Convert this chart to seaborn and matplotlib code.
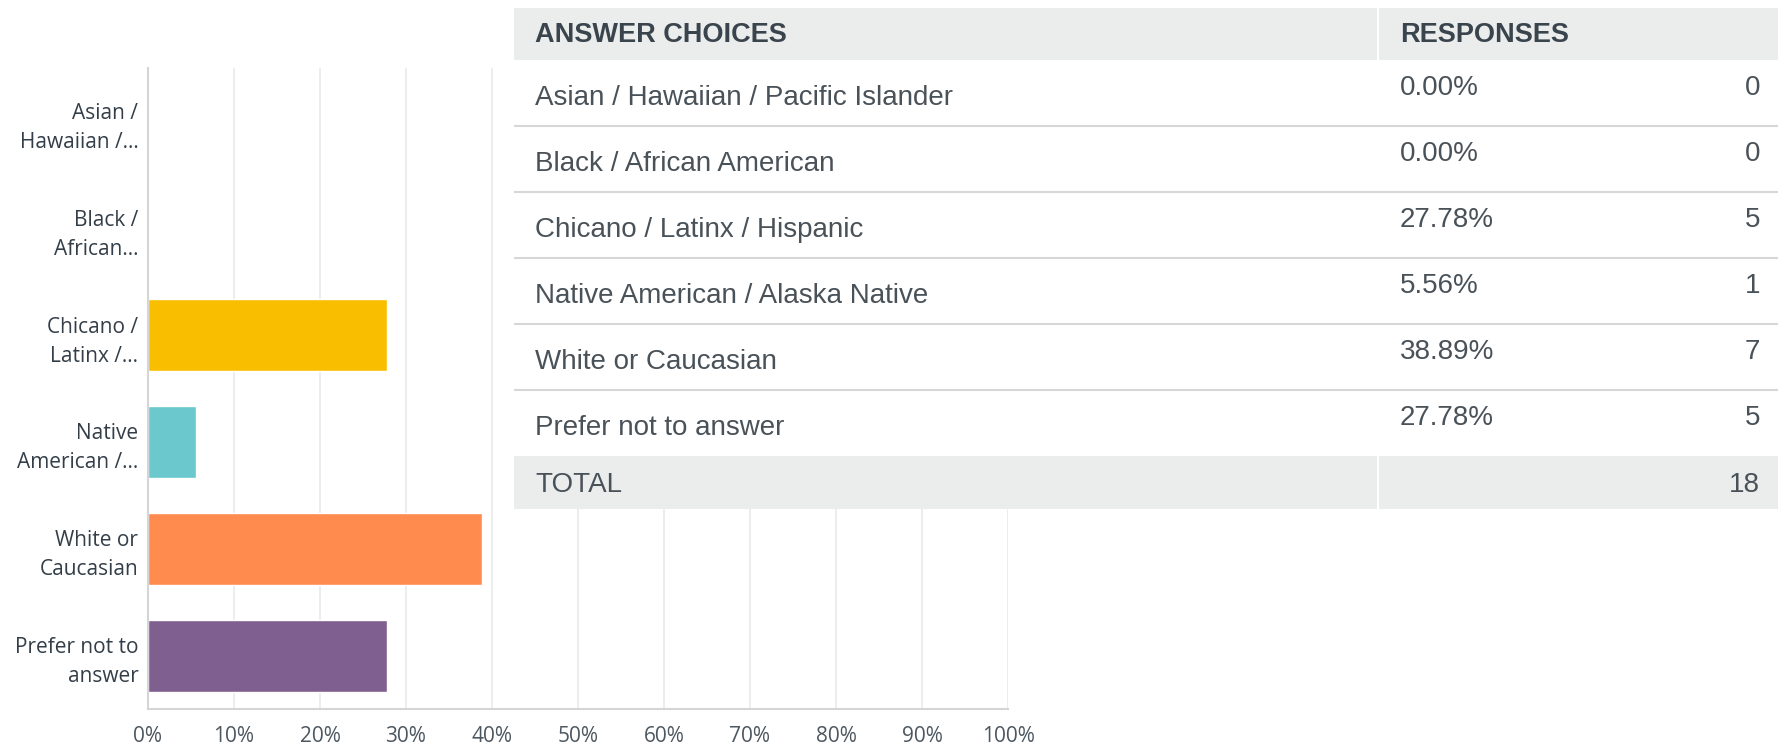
import matplotlib
matplotlib.use('Agg')
import matplotlib.pyplot as plt
from matplotlib.patches import Rectangle
import pandas as pd
import seaborn as sns

# survey answers
choices = ['Asian / Hawaiian / Pacific Islander', 'Black / African American',
           'Chicano / Latinx / Hispanic', 'Native American / Alaska Native',
           'White or Caucasian', 'Prefer not to answer']
short_labels = ['Asian /\nHawaiian /…', 'Black /\nAfrican…', 'Chicano /\nLatinx /…',
                'Native\nAmerican /…', 'White or\nCaucasian', 'Prefer not to\nanswer']
percents = [0.00, 0.00, 27.78, 5.56, 38.89, 27.78]
counts = [0, 0, 5, 1, 7, 5]
total = 18
colors = ['#00BF6F', '#507CB6', '#F9BE00', '#6BC8CD', '#FF8B4F', '#7F5F90']
xticks = list(range(0, 101, 10))

df = pd.DataFrame({'label': short_labels, 'pct': percents})

sns.set_style('white')
plt.rcParams['font.family'] = ['Open Sans', 'DejaVu Sans']

W, H = 1778, 747
fig = plt.figure(figsize=(W / 100, H / 100), dpi=100)

# bar chart
ax = fig.add_axes([148 / W, 38 / H, 860 / W, 641 / H])
sns.barplot(data=df, y='label', x='pct', hue='label', palette=colors, width=0.675,
            saturation=1, legend=False, orient='h', ax=ax)
ax.set_xlim(0, 100)
ax.set_ylim(5.5, -0.5)
ax.set_xticks(xticks)
ax.set_xticklabels([f'{v}%' for v in xticks])
ax.set_xlabel('')
ax.set_ylabel('')
ax.grid(axis='x', color='#ececec', lw=1.3)
ax.set_axisbelow(True)
for s in ['top', 'right']:
    ax.spines[s].set_visible(False)
for s in ['left', 'bottom']:
    ax.spines[s].set_color('#d3d5d6')
    ax.spines[s].set_linewidth(1.5)
ax.tick_params(axis='x', length=0, pad=12, labelsize=15, labelcolor='#4d5760')
ax.tick_params(axis='y', length=0, pad=7, labelsize=15, labelcolor='#333e48')
for t in ax.get_yticklabels():
    t.set_linespacing(1.5)

# results table drawn on top
tw, th = 1264, 501
tx = fig.add_axes([514 / W, (H - 509) / H, tw / W, th / H])
tx.set_xlim(0, tw)
tx.set_ylim(th, 0)
tx.axis('off')
tx.add_patch(Rectangle((0, 0), tw, th, fc='white', ec='none'))

head_h, row_h, split = 52, 66, 863
grey = '#ebeded'
tfont = ['Liberation Sans', 'DejaVu Sans']
fs = 20
tx.add_patch(Rectangle((0, 0), split, head_h, fc=grey, ec='none'))
tx.add_patch(Rectangle((split + 2, 0), tw - split - 2, head_h, fc=grey, ec='none'))
tx.text(21, head_h / 2 + 1, 'ANSWER CHOICES', fontsize=19.5, fontweight='bold',
        color='#3a444d', va='center', family=tfont)
tx.text(886, head_h / 2 + 1, 'RESPONSES', fontsize=19.5, fontweight='bold',
        color='#3a444d', va='center', family=tfont)

for i, (c, p, n) in enumerate(zip(choices, percents, counts)):
    top = head_h + i * row_h
    tx.text(21, top + row_h / 2 + 5, c, fontsize=fs, color='#4a5259', va='center', family=tfont)
    tx.text(886, top + 28, f'{p:.2f}%', fontsize=fs, color='#4a5259', va='center', family=tfont)
    tx.text(1246, top + 28, str(n), fontsize=fs, color='#4a5259', va='center', ha='right',
            family=tfont)
    if i < len(choices) - 1:
        tx.plot([0, tw], [top + row_h, top + row_h], color='#d5d7d8', lw=1.5)

ttop = head_h + len(choices) * row_h
tx.add_patch(Rectangle((0, ttop), split, th - ttop, fc=grey, ec='none'))
tx.add_patch(Rectangle((split + 2, ttop), tw - split - 2, th - ttop, fc=grey, ec='none'))
tx.text(21, (ttop + th) / 2 + 2, 'TOTAL', fontsize=fs, color='#4a5259', va='center', family=tfont)
tx.text(1246, (ttop + th) / 2 + 2, str(total), fontsize=fs, color='#4a5259', va='center',
        ha='right', family=tfont)

fig.savefig('out.png', dpi=100, facecolor='white')
